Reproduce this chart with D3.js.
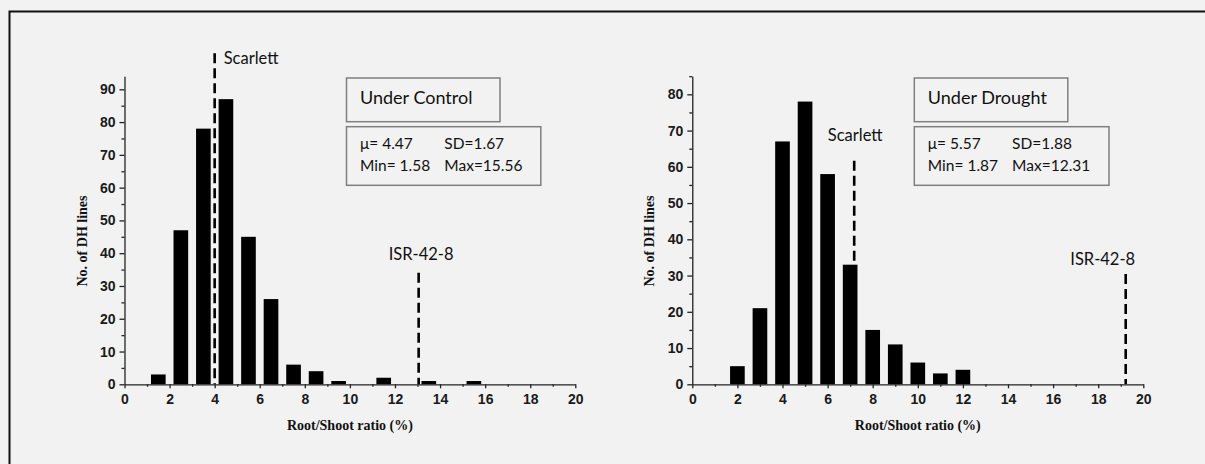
<!DOCTYPE html>
<html>
<head>
<meta charset="utf-8">
<script src="https://cdn.jsdelivr.net/npm/d3@7"></script>
<style>
  body { margin: 0; background: #f2f2f2; overflow: hidden; }
  svg { display: block; }
  .axis-title { font-family: "Liberation Serif", "Times New Roman", serif; font-weight: bold; font-size: 14px; fill: #111; }
  .note { font-family: Lato, "Open Sans", sans-serif; fill: #111; }
</style>
</head>
<body>
<div id="chart"></div>
<script>
var svgWidth = 1205;
var svgHeight = 464;

// histogram data (bin centre, number of DH lines)
var controlBins = [1.5, 2.5, 3.5, 4.5, 5.5, 6.5, 7.5, 8.5, 9.5, 11.5, 13.5, 15.5];
var controlCounts = [3, 47, 78, 87, 45, 26, 6, 4, 1, 2, 1, 1];
var droughtBins = [2, 3, 4, 5, 6, 7, 8, 9, 10, 11, 12];
var droughtCounts = [5, 21, 67, 78, 58, 33, 15, 11, 6, 3, 4];

// parent markers: x position and top of the dashed line (data units)
var controlMarkers = [
  { name: "Scarlett", x: 4.0, top: 101 },
  { name: "ISR-42-8", x: 13.05, top: 34 }
];
var droughtMarkers = [
  { name: "Scarlett", x: 7.18, top: 61.7 },
  { name: "ISR-42-8", x: 19.22, top: 30.4 }
];

var controlTitle = "Under Control";
var droughtTitle = "Under Drought";
var controlStats = [["\u03bc= 4.47", "SD=1.67"], ["Min= 1.58", "Max=15.56"]];
var droughtStats = [["\u03bc= 5.57", "SD=1.88"], ["Min= 1.87", "Max=12.31"]];

var xTicks = d3.range(0, 21, 2);
var xMinor = d3.range(1, 20, 2);

var svg = d3.select("#chart")
  .append("svg")
  .attr("width", svgWidth)
  .attr("height", svgHeight);

svg.append("rect")
  .attr("width", svgWidth)
  .attr("height", svgHeight)
  .attr("fill", "#f2f2f2");

// outer frame (only left and top edges fall inside the picture)
svg.append("path")
  .attr("d", `M9.5,${svgHeight + 5} V11.5 H${svgWidth + 5}`)
  .attr("fill", "none")
  .attr("stroke", "#111")
  .attr("stroke-width", 2);

function styleAxis(sel) {
  sel.attr("font-size", 14)
    .attr("font-family", "'Liberation Sans', Arial, sans-serif")
    .attr("font-weight", "bold");
  sel.selectAll(".tick text")
    .attr("fill", "#1a1a1a")
    .style("font-size", "14px")
    .style("font-weight", "bold")
    .style("font-family", "'Liberation Sans', Arial, sans-serif");
  sel.selectAll(".domain, .tick line").attr("stroke", "#222").attr("stroke-width", 1.3);
}

function drawPanel(opts) {
  var x = d3.scaleLinear().domain([0, 20]).range([opts.left, opts.right]);
  var y = d3.scaleLinear().domain([0, opts.yMax]).range([384.3, 76.2]);
  var g = svg.append("g");

  // dashed parent lines (drawn first, bars sit on top)
  opts.markers.forEach(function(m) {
    g.append("line")
      .attr("x1", x(m.x)).attr("x2", x(m.x))
      .attr("y1", y(m.top)).attr("y2", y(0))
      .attr("stroke", "#000")
      .attr("stroke-width", 2.6)
      .attr("stroke-dasharray", "10,5");
  });

  // bars
  var data = opts.bins.map(function(b, i) { return { x: b, n: opts.counts[i] }; });
  var bw = x(0.65) - x(0);
  g.selectAll("rect.bar")
    .data(data)
    .enter()
    .append("rect")
    .attr("class", "bar")
    .attr("x", d => x(d.x) - bw / 2)
    .attr("y", d => y(d.n))
    .attr("width", bw)
    .attr("height", d => y(0) - y(d.n))
    .attr("fill", "#000");

  // x axis
  var xAxis = g.append("g")
    .attr("transform", `translate(0, ${y(0)})`)
    .call(d3.axisBottom(x).tickValues(xTicks).tickSize(4).tickSizeOuter(0).tickFormat(d3.format("d")));
  styleAxis(xAxis);
  xAxis.selectAll(".tick text").attr("y", 7).attr("dy", "0.9em");
  var xMin = g.append("g")
    .attr("transform", `translate(0, ${y(0)})`)
    .call(d3.axisBottom(x).tickValues(xMinor).tickSize(2.5).tickFormat(""));
  xMin.select(".domain").remove();
  styleAxis(xMin);

  // y axis
  var yAxis = g.append("g")
    .attr("transform", `translate(${x(0)}, 0)`)
    .call(d3.axisLeft(y).tickValues(opts.yTicks).tickSize(5).tickPadding(4).tickSizeOuter(0));
  styleAxis(yAxis);
  var yMin = g.append("g")
    .attr("transform", `translate(${x(0)}, 0)`)
    .call(d3.axisLeft(y).tickValues(opts.yMinor).tickSize(3).tickFormat(""));
  yMin.select(".domain").remove();
  styleAxis(yMin);

  // axis titles
  g.append("text")
    .attr("class", "axis-title")
    .attr("x", (opts.left + opts.right) / 2)
    .attr("y", 430)
    .attr("text-anchor", "middle")
    .text("Root/Shoot ratio (%)");
  g.append("text")
    .attr("class", "axis-title")
    .attr("transform", `translate(${opts.left - 38}, 241) rotate(-90)`)
    .attr("text-anchor", "middle")
    .text("No. of DH lines");

  // marker labels
  opts.markers.forEach(function(m, i) {
    var lab = opts.labelPos[i];
    g.append("text")
      .attr("class", "note")
      .attr("x", x(m.x) + lab.dx)
      .attr("y", y(m.top) + lab.dy)
      .attr("text-anchor", lab.anchor)
      .style("font-size", "16.5px")
      .text(m.name);
  });

  // title box
  var bx = opts.left + 222;
  g.append("rect")
    .attr("x", bx).attr("y", 78)
    .attr("width", 153.5).attr("height", 43.7)
    .attr("fill", "none").attr("stroke", "#7f7f7f").attr("stroke-width", 1.5);
  g.append("text")
    .attr("class", "note")
    .attr("x", bx + 13.5).attr("y", 104)
    .style("font-size", "18px")
    .text(opts.title);

  // stats box
  g.append("rect")
    .attr("x", bx).attr("y", 126.7)
    .attr("width", opts.statsWidth).attr("height", 58.6)
    .attr("fill", "none").attr("stroke", "#7f7f7f").attr("stroke-width", 1.5);
  opts.stats.forEach(function(row, r) {
    row.forEach(function(t, c) {
      g.append("text")
        .attr("class", "note")
        .attr("x", bx + 13.5 + c * opts.statsCol)
        .attr("y", 149 + r * 22)
        .style("font-size", "15.5px")
        .text(t);
    });
  });
}

drawPanel({
  left: 124.5, right: 575.3, yMax: 94,
  yTicks: d3.range(0, 91, 10), yMinor: d3.range(5, 91, 10),
  bins: controlBins, counts: controlCounts, markers: controlMarkers,
  labelPos: [{ dx: 9, dy: 11, anchor: "start" }, { dx: 2.5, dy: -13, anchor: "middle" }],
  title: controlTitle, stats: controlStats, statsWidth: 194.3, statsCol: 84.3
});

drawPanel({
  left: 692.3, right: 1143.3, yMax: 85,
  yTicks: d3.range(0, 81, 10), yMinor: d3.range(5, 86, 10),
  bins: droughtBins, counts: droughtCounts, markers: droughtMarkers,
  labelPos: [{ dx: 1, dy: -20, anchor: "middle" }, { dx: -23, dy: -9, anchor: "middle" }],
  title: droughtTitle, stats: droughtStats, statsWidth: 194.7, statsCol: 84.3
});
</script>
</body>
</html>
